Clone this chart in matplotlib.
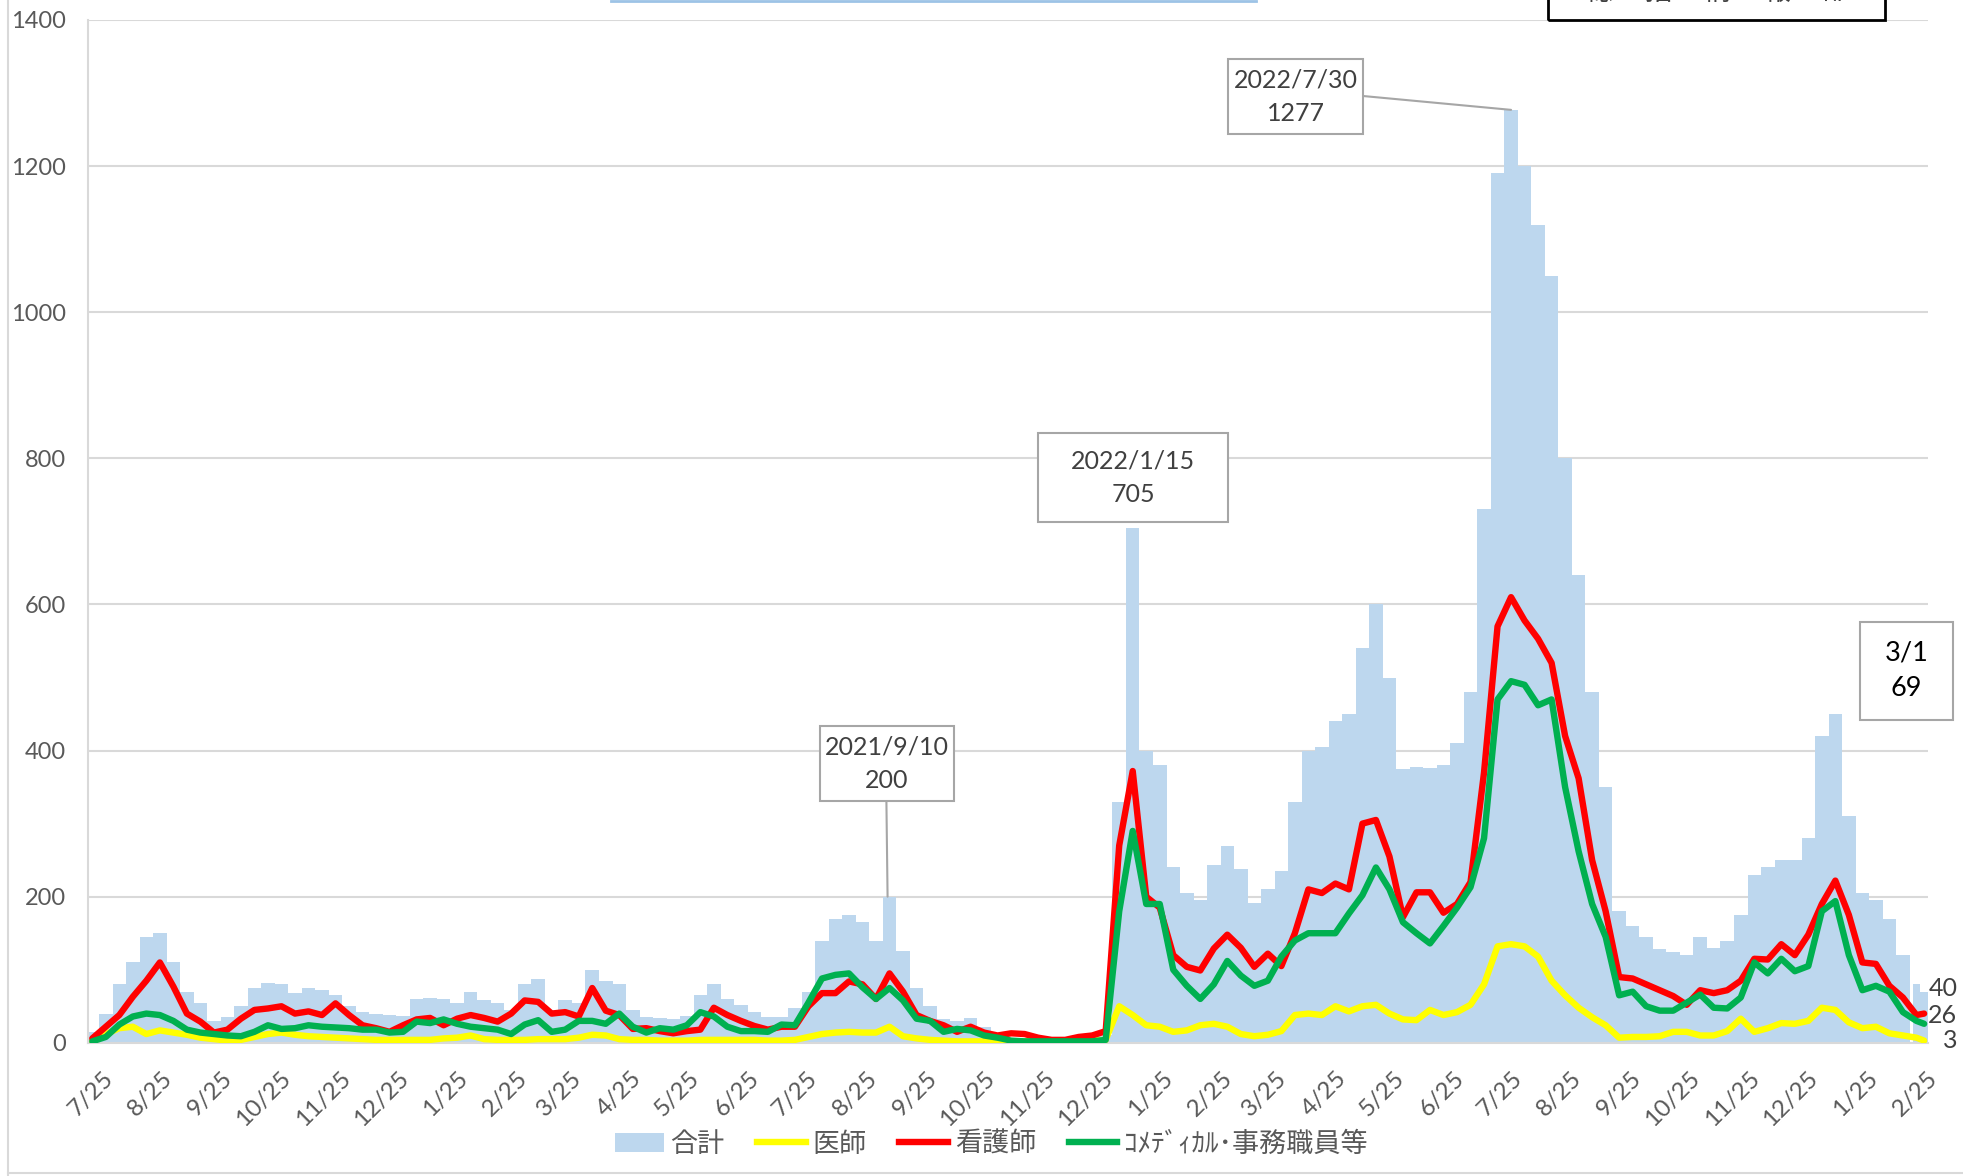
import matplotlib
matplotlib.use('Agg')
import matplotlib.pyplot as plt
import matplotlib.dates as mdates
import matplotlib.transforms as mtransforms
import numpy as np
import pandas as pd
from matplotlib.patches import Rectangle, Patch
from matplotlib.lines import Line2D

plt.rcParams['font.family'] = ['Lato', 'Noto Sans CJK JP', 'DejaVu Sans']

# ---------------- data (weekly readings from 2020-07-25, plus 2023-03-01) -------------
start_date = '2020-07-25'
n_weeks = 136
last_date = '2023-03-01'

total = [15, 40, 80, 110, 145, 150, 110, 70, 55, 30,
         35, 50, 75, 82, 80, 68, 75, 72, 66, 50,
         42, 40, 38, 36, 60, 62, 60, 55, 70, 58,
         55, 45, 80, 88, 45, 58, 55, 100, 84, 80,
         45, 35, 34, 33, 36, 65, 80, 60, 52, 42,
         35, 35, 47, 70, 140, 170, 175, 165, 140, 200,
         125, 75, 50, 32, 30, 34, 22, 12, 5, 4,
         4, 4, 5, 10, 14, 11, 330, 705, 400, 380,
         240, 205, 195, 243, 270, 238, 192, 210, 235, 330,
         400, 405, 440, 450, 540, 600, 500, 375, 378, 376,
         380, 410, 480, 730, 1190, 1277, 1200, 1120, 1050, 800,
         640, 480, 350, 180, 160, 145, 128, 124, 120, 145,
         130, 140, 175, 230, 240, 250, 250, 280, 420, 450,
         310, 205, 196, 170, 120, 80, 69]

nurse = [6, 22, 38, 63, 85, 110, 77, 40, 29, 14,
         18, 33, 45, 47, 50, 40, 43, 38, 54, 38,
         24, 20, 15, 24, 32, 34, 24, 33, 38, 34,
         29, 40, 58, 56, 40, 42, 36, 75, 44, 38,
         19, 20, 16, 13, 16, 18, 48, 38, 30, 23,
         18, 22, 22, 50, 68, 68, 84, 80, 60, 95,
         70, 38, 30, 24, 15, 22, 14, 10, 13, 12,
         7, 4, 4, 8, 10, 16, 270, 372, 200, 185,
         120, 104, 99, 129, 148, 130, 104, 122, 105, 150,
         210, 205, 218, 210, 300, 305, 255, 172, 206, 206,
         178, 190, 220, 370, 570, 610, 578, 553, 520, 420,
         362, 250, 180, 90, 88, 80, 72, 64, 52, 72,
         68, 72, 85, 115, 114, 135, 120, 148, 190, 222,
         175, 110, 108, 78, 62, 38, 40]

comedical = [2, 8, 25, 36, 40, 38, 30, 18, 14, 12,
             10, 9, 15, 24, 19, 20, 24, 22, 21, 20,
             18, 18, 14, 15, 29, 27, 32, 26, 22, 20,
             18, 12, 25, 31, 15, 18, 30, 30, 26, 40,
             22, 14, 20, 18, 24, 42, 36, 22, 16, 16,
             15, 25, 24, 55, 88, 93, 95, 76, 60, 75,
             58, 33, 30, 15, 19, 17, 10, 7, 3, 2,
             2, 2, 2, 2, 2, 4, 180, 290, 190, 190,
             100, 78, 60, 80, 112, 92, 78, 85, 118, 140,
             150, 150, 150, 177, 202, 240, 210, 165, 150, 136,
             160, 185, 213, 280, 470, 495, 490, 462, 470, 350,
             262, 190, 145, 65, 70, 50, 44, 44, 55, 66,
             48, 47, 62, 110, 95, 115, 98, 105, 180, 194,
             120, 72, 78, 70, 42, 30, 26]

doctor = [2, 12, 20, 22, 12, 17, 14, 11, 7, 5,
          3, 4, 8, 12, 14, 11, 9, 8, 7, 6,
          5, 4, 4, 4, 4, 4, 6, 7, 10, 5,
          4, 4, 4, 5, 5, 5, 7, 11, 10, 5,
          4, 4, 3, 3, 3, 4, 4, 4, 4, 4,
          3, 3, 4, 8, 12, 14, 15, 14, 14, 22,
          9, 6, 4, 3, 2, 2, 2, 2, 2, 2,
          2, 2, 2, 2, 3, 4, 50, 38, 24, 22,
          15, 17, 24, 26, 22, 12, 9, 11, 16, 38,
          40, 38, 50, 43, 50, 52, 40, 32, 31, 45,
          38, 42, 52, 80, 132, 135, 132, 118, 85, 65,
          48, 35, 24, 7, 8, 8, 9, 15, 15, 10,
          10, 16, 33, 15, 20, 27, 26, 30, 48, 45,
          28, 20, 22, 13, 10, 7, 3]

series_names = ['合計', '医師', '看護師', 'ｺﾒﾃﾞｨｶﾙ･事務職員等']
callouts = [('2021-09-10', 200, '2021/9/10\n200'),
            ('2022-01-15', 705, '2022/1/15\n705'),
            ('2022-07-30', 1277, '2022/7/30\n1277'),
            ('2023-03-01', 69, '3/1\n69')]
header_chars = ['総', '括', '情', '報', '部']

# ---------------- build ----------------
dates = list(pd.date_range(start_date, periods=n_weeks, freq='7D')) + [pd.Timestamp(last_date)]
for s in (total, nurse, comedical, doctor):
    assert len(s) == len(dates)
dnum = mdates.date2num(dates)
widths = np.append(np.diff(dnum), 4.0)

W, H = 1963, 1176
fig = plt.figure(figsize=(W / 100, H / 100), dpi=100)
ax_l, ax_r, ax_t, ax_b = 88.3, 1928.0, 20.0, 1042.8
ax = fig.add_axes([ax_l / W, 1 - ax_b / H, (ax_r - ax_l) / W, (ax_b - ax_t) / H])

C_BAR, C_DOC, C_NUR, C_COM = '#BDD7EE', '#FFFF00', '#FF0000', '#00B050'
TXT = '#595959'

ax.bar(dnum, total, width=widths, color=C_BAR, linewidth=0, zorder=1)
lkw = dict(lw=4.6, solid_joinstyle='round', solid_capstyle='round')
ax.plot(dnum, doctor, color=C_DOC, zorder=3, **lkw)
ax.plot(dnum, nurse, color=C_NUR, zorder=3, **lkw)
ax.plot(dnum, comedical, color=C_COM, zorder=3, **lkw)

d0 = mdates.date2num(pd.Timestamp(start_date))
ax.set_xlim(d0 - 2.07, d0 + 951)
ax.set_ylim(0, 1400)
ax.set_yticks(np.arange(0, 1401, 200))
ax.set_axisbelow(True)
ax.yaxis.grid(True, color='#D9D9D9', lw=1.5, zorder=0)

ticks = pd.date_range('2020-07-25', '2023-02-25', freq=pd.DateOffset(months=1))
ax.set_xticks(mdates.date2num(ticks))
ax.set_xticklabels([f'{t.month}/25' for t in ticks], rotation=45, ha='right',
                   va='top', rotation_mode='anchor')
ax.tick_params(axis='y', length=0, labelsize=17, labelcolor=TXT, pad=16)
ax.tick_params(axis='x', length=0, labelsize=17.5, labelcolor=TXT, pad=10)
shift = mtransforms.ScaledTranslation(0.10, -0.11, fig.dpi_scale_trans)
for lab in ax.get_xticklabels():
    lab.set_transform(lab.get_transform() + shift)

for sp in ('top', 'right'):
    ax.spines[sp].set_visible(False)
for sp in ('left', 'bottom'):
    ax.spines[sp].set_color('#D9D9D9')
    ax.spines[sp].set_linewidth(1.5)

# callout boxes (axes-fraction layout positions)
def fx(px):
    return (px - ax_l) / (ax_r - ax_l)

def fy(py):
    return (ax_b - py) / (ax_b - ax_t)

boxes = [(820, 954, 726, 801, '#404040', 18, (886.4, 801)),
         (1038, 1228, 433, 522, '#404040', 18, None),
         (1228, 1363, 59, 134, '#404040', 18, (1363, 96)),
         (1860, 1953, 622, 720, '#000000', 19.5, None)]
for (dstr, val, label), (x0, x1, y0, y1, tc, fs, lead) in zip(callouts, boxes):
    ax.add_patch(Rectangle((fx(x0), fy(y1)), fx(x1) - fx(x0), fy(y0) - fy(y1),
                           transform=ax.transAxes, facecolor='white',
                           edgecolor='#A6A6A6', lw=1.5, clip_on=False, zorder=6))
    ax.text((fx(x0) + fx(x1)) / 2, (fy(y0) + fy(y1)) / 2, label, transform=ax.transAxes,
            ha='center', va='center', fontsize=fs, color=tc, linespacing=1.55,
            zorder=7, clip_on=False)
    if lead is not None:
        ax.annotate('', xy=(mdates.date2num(pd.Timestamp(dstr)), val), xycoords='data',
                    xytext=(fx(lead[0]), fy(lead[1])), textcoords='axes fraction',
                    arrowprops=dict(arrowstyle='-', color='#A6A6A6', lw=1.5,
                                    shrinkA=0, shrinkB=0), zorder=5)

# end-value labels
for s, dy in ((nurse, 18.4), (comedical, 6.3), (doctor, 0.4)):
    ax.annotate(f'{s[-1]}', xy=(dnum[-1], s[-1]), xytext=(24, dy),
                textcoords='offset points', ha='right', va='center',
                fontsize=18, color='#404040', annotation_clip=False)

# legend
handles = [Patch(facecolor=C_BAR, edgecolor='none'),
           Line2D([], [], color=C_DOC, lw=4.6),
           Line2D([], [], color=C_NUR, lw=4.6),
           Line2D([], [], color=C_COM, lw=4.6)]
fig.legend(handles, series_names, loc='center', bbox_to_anchor=(0.505, 0.027), ncol=4,
           frameon=False, fontsize=19.5, handlelength=1.8, columnspacing=1.2,
           handletextpad=0.25, labelcolor=TXT)

# cropped header decorations at top
fig.add_artist(Line2D([611 / W, 1256 / W], [1 - 1 / H, 1 - 1 / H], color='#9DC3E6', lw=2))
fig.add_artist(Rectangle((1548 / W, 1 - 20 / H), (1885 - 1548) / W, 40 / H,
                         transform=fig.transFigure, fill=False, edgecolor='black', lw=2))
for i, ch in enumerate(header_chars):
    fig.text((1598 + 59.5 * i) / W, 1 - 7 / H, ch, ha='center', va='bottom',
             fontsize=20, color='#404040', family=['Noto Sans CJK JP'])

# chart-area border
fig.add_artist(Line2D([8 / W, 8 / W], [0, 1], color='#D9D9D9', lw=1.5))
fig.add_artist(Line2D([8 / W, 1], [3 / H, 3 / H], color='#D9D9D9', lw=1.5))

fig.savefig('out.png', dpi=100)
